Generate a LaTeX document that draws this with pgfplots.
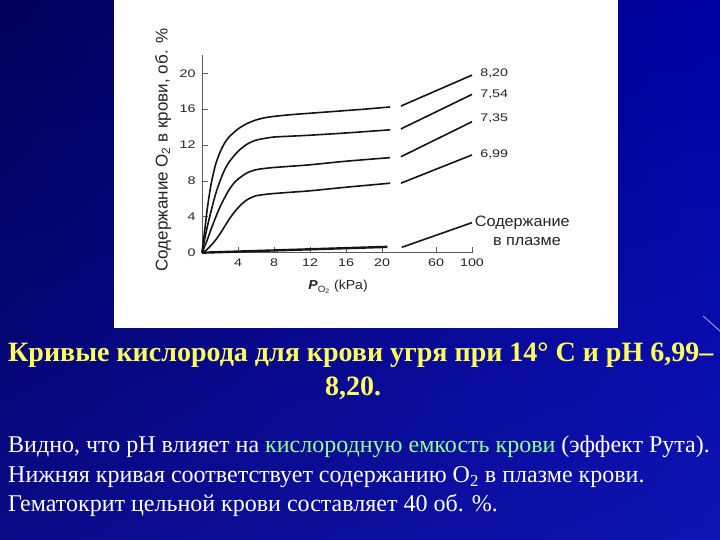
\documentclass[border=0pt]{standalone}
\usepackage{pgfplots}
\pgfplotsset{compat=1.18}
\usetikzlibrary{shadings}
\usepackage{fontspec}
\setmainfont{Liberation Serif}
\setsansfont{Liberation Sans}
\newfontfamily\chartfont[FakeStretch=1.3]{Liberation Sans}
\newfontfamily\chartfontb[FakeStretch=1.08]{Liberation Sans}
\usepackage{graphicx}
\definecolor{bgTL}{RGB}{0,0,88}
\definecolor{bgTR}{RGB}{0,0,165}
\definecolor{bgBL}{RGB}{10,10,135}
\definecolor{bgBR}{RGB}{15,20,178}
\definecolor{titleyellow}{RGB}{255,255,90}
\definecolor{lightgreen}{RGB}{150,255,150}
\definecolor{axisgray}{RGB}{90,90,90}
\definecolor{txtgray}{RGB}{35,35,35}
\definecolor{curve}{RGB}{20,20,20}
\definecolor{deco}{RGB}{170,170,240}

\pgfplotstableread{
x y
0 0
0.3 2.5
0.6 5
1 7.6
1.5 9.8
2 11.2
2.5 12.2
3 12.9
4 13.8
5 14.4
6 14.8
7 15.05
8 15.2
10 15.4
12 15.55
14 15.7
16 15.85
18 16.0
20.9 16.25
}\cA
\pgfplotstableread{
x y
0 0
0.5 2.5
1 4.6
1.5 6.5
2 8.0
2.5 9.2
3 10.1
4 11.3
5 12.1
6 12.55
7 12.75
8 12.9
10 13.0
12 13.1
16 13.35
20.9 13.7
}\cB
\pgfplotstableread{
x y
0 0
0.5 1.2
1 2.6
1.5 3.9
2 5.1
2.5 6.1
3 7.0
3.5 7.7
4 8.2
5 8.9
6 9.25
7 9.4
8 9.5
10 9.65
12 9.8
16 10.2
20.9 10.6
}\cC
\pgfplotstableread{
x y
0 0
0.5 0.3
1 0.8
1.5 1.4
2 2.1
2.5 2.9
3 3.7
3.5 4.4
4 5.0
4.5 5.5
5 5.9
5.5 6.15
6 6.35
7 6.5
8 6.6
10 6.75
12 6.9
16 7.3
20.9 7.75
}\cD

\begin{document}
\begin{tikzpicture}[x=1pt,y=1pt]
\path[use as bounding box] (0,0) rectangle (720,540);
\clip (0,0) rectangle (720,540);
\shade[upper left=bgTL, upper right=bgTR, lower left=bgBL, lower right=bgBR] (0,0) rectangle (720,540);
\fill[white] (114,212) rectangle (618,540);
\draw[deco, line width=0.8pt] (703,224) -- (720,209);

\begin{axis}[
  at={(202pt,287.3pt)}, anchor=south west,
  scale only axis, width=270pt, height=197.3pt,
  xmin=0, xmax=30, ymin=0, ymax=22,
  axis x line=bottom, axis y line=left,
  axis line style={-, draw=axisgray, line width=0.9pt},
  xtick={4,8,12,16,20,26,30}, xticklabels={4,8,12,16,20,60,100},
  ytick={0,4,8,12,16,20},
  tick align=inside, major tick length=6pt,
  tick style={axisgray, line width=0.8pt},
  /pgf/number format/assume math mode=true,
  tick label style={font=\chartfont\fontsize{11}{12}\selectfont, text=txtgray},
  xticklabel style={yshift=-2.5pt},
  yticklabel style={xshift=-3pt},
  ylabel={Содержание O\textsubscript{2} в крови, об. \%},
  ylabel style={at={(axis description cs:-0.144,0.52)}, anchor=center, font=\sffamily\fontsize{17}{18}\selectfont, text=txtgray},
  xlabel={\textbf{\textit{P}}\textsubscript{O\textsubscript{2}} (kPa)},
  xlabel style={at={(axis description cs:0.504,-0.174)}, anchor=center, font=\chartfontb\fontsize{13}{14}\selectfont, text=txtgray},
  clip=false,
]
\addplot[curve, line width=1.6pt, smooth, tension=0.4] table {\cA};
\addplot[curve, line width=1.6pt, smooth, tension=0.4] table {\cB};
\addplot[curve, line width=1.6pt, smooth, tension=0.4] table {\cC};
\addplot[curve, line width=1.6pt, smooth, tension=0.4] table {\cD};
\addplot[curve, line width=2.4pt] coordinates {(0,0) (20.6,0.65)};
% segments beyond the axis break: x in kPa, mapped by 22+(x-20)/10
\addplot[curve, line width=1.6pt, x filter/.expression={22+(x-20)/10}] coordinates {(21,16.35) (100,19.8)};
\addplot[curve, line width=1.6pt, x filter/.expression={22+(x-20)/10}] coordinates {(21,13.8) (100,17.65)};
\addplot[curve, line width=1.6pt, x filter/.expression={22+(x-20)/10}] coordinates {(21,10.7) (100,14.6)};
\addplot[curve, line width=1.6pt, x filter/.expression={22+(x-20)/10}] coordinates {(21,7.75) (100,10.9)};
\addplot[curve, line width=1.6pt, x filter/.expression={22+(x-20)/10}] coordinates {(22,0.6) (100,3.35)};

\begin{scope}[font=\chartfont\fontsize{11}{12}\selectfont, text=txtgray]
\node[anchor=west, inner sep=0pt] at (axis cs:30.9,20.03) {8,20};
\node[anchor=west, inner sep=0pt] at (axis cs:30.9,17.7) {7,54};
\node[anchor=west, inner sep=0pt] at (axis cs:30.9,15.0) {7,35};
\node[anchor=west, inner sep=0pt] at (axis cs:30.9,11.0) {6,99};
\end{scope}
\begin{scope}[font=\chartfontb\fontsize{15}{16}\selectfont, text=txtgray]
\node[anchor=west, inner sep=0pt] at (axis cs:30.3,3.3) {Содержание};
\node[anchor=center, inner sep=0pt] at (axis cs:36.1,1.2) {в плазме};
\end{scope}
\end{axis}

\node[anchor=base west, inner sep=0pt, text=titleyellow, font=\bfseries\fontsize{28}{30}\selectfont] at (8,178) {Кривые кислорода для крови угря при 14° С и pH 6,99–};
\node[anchor=base, inner sep=0pt, text=titleyellow, font=\bfseries\fontsize{28}{30}\selectfont] at (353,144) {8,20.};
\begin{scope}[font=\fontsize{24}{26}\selectfont, text=white]
\node[anchor=base west, inner sep=0pt] at (8,87) {Видно, что pH влияет на \textcolor{lightgreen}{кислородную емкость крови} (эффект Рута).};
\node[anchor=base west, inner sep=0pt] at (8,57) {Нижняя кривая соответствует содержанию O\textsubscript{2} в плазме крови.};
\node[anchor=base west, inner sep=0pt] at (8,28) {Гематокрит цельной крови составляет 40 об. \%.};
\end{scope}
\end{tikzpicture}
\end{document}
